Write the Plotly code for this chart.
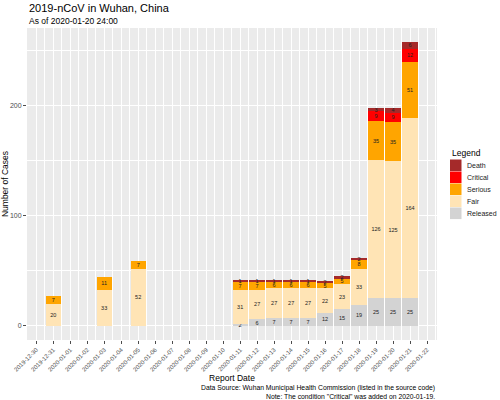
import plotly.graph_objects as go

# report dates that have data
dates = ["2019-12-31", "2020-01-03", "2020-01-05",
         "2020-01-11", "2020-01-12", "2020-01-13", "2020-01-14", "2020-01-15",
         "2020-01-16", "2020-01-17", "2020-01-18", "2020-01-19", "2020-01-20",
         "2020-01-21"]

released = [None, None, None, 2, 6, 7, 7, 7, 12, 15, 19, 25, 25, 25]
fair = [20, 33, 52, 31, 27, 27, 27, 27, 22, 23, 33, 126, 125, 164]
serious = [7, 11, 7, 7, 7, 6, 6, 6, 5, 5, 8, 35, 35, 51]
critical = [None, None, None, None, None, None, None, None, None, None, None, 9, 9, 12]
death = [None, None, None, 1, 1, 1, 1, 1, 2, 2, 2, 3, 4, 6]

tick_dates = ["2019-12-30", "2019-12-31"] + ["2020-01-%02d" % d for d in range(1, 23)]

series = [
    ("Released", released, "#d3d3d3"),
    ("Fair", fair, "#ffe4b5"),
    ("Serious", serious, "#ffa500"),
    ("Critical", critical, "#ff0000"),
    ("Death", death, "#a52a2a"),
]

FONT = "Liberation Sans, Arial, sans-serif"
DAY = 86400000

fig = go.Figure()
for name, vals, col in series:
    fig.add_trace(go.Bar(
        x=dates, y=vals, name=name,
        marker=dict(color=col, line=dict(width=0)),
        width=0.9 * DAY,
        text=[("" if v is None else str(v)) for v in vals],
        textposition="inside",
        insidetextanchor="middle",
        constraintext="none",
        textangle=0,
        textfont=dict(size=5.5, color="#222222", family=FONT),
        hoverinfo="x+y+name",
        showlegend=False,
    ))

fig.update_layout(
    width=500, height=400,
    barmode="stack",
    margin=dict(l=27, r=63, t=28, b=60, autoexpand=False),
    paper_bgcolor="white",
    plot_bgcolor="#ebebeb",
    font=dict(family=FONT, size=8, color="#222222"),
)

fig.add_annotation(
    text="2019-nCoV in Wuhan, China", xref="paper", yref="paper",
    x=0, y=1, xanchor="left", yanchor="bottom", yshift=12,
    showarrow=False, font=dict(size=11, color="black"),
)
fig.add_annotation(
    text="As of 2020-01-20 24:00", xref="paper", yref="paper",
    x=0, y=1, xanchor="left", yanchor="bottom", yshift=0,
    showarrow=False, font=dict(size=8.5, color="black"),
)

# legend drawn by hand, ggplot style (top to bottom: Death ... Released)
fig.add_annotation(
    text="Legend", xref="paper", yref="paper",
    x=(450 - 27) / 410, y=(340 - 152.5) / 312, xanchor="left", yanchor="middle",
    showarrow=False, font=dict(size=8.5, color="black"),
)
for i, (name, vals, col) in enumerate(reversed(series)):
    yc = 165.3 + 12.0 * i
    fig.add_shape(
        type="rect", xref="paper", yref="paper",
        x0=(450 - 27) / 410, x1=(461.5 - 27) / 410,
        y0=(340 - yc + 5.8) / 312, y1=(340 - yc - 5.8) / 312,
        fillcolor=col, line=dict(width=0),
    )
    fig.add_annotation(
        text=name, xref="paper", yref="paper",
        x=(465 - 27) / 410, y=(340 - yc) / 312, xanchor="left", yanchor="middle",
        showarrow=False, font=dict(size=7, color="#222222"),
    )

fig.update_xaxes(
    type="date",
    automargin=False,
    range=["2019-12-29 11:00", "2020-01-22 14:00"],
    tickvals=tick_dates,
    ticktext=tick_dates,
    tickangle=-45,
    tickfont=dict(size=6, color="#4d4d4d"),
    ticks="outside", ticklen=3, tickcolor="#4d4d4d",
    showgrid=True, gridcolor="white", gridwidth=1,
    minor=dict(dtick=DAY / 2, tick0="2019-12-29 12:00", showgrid=True,
               gridcolor="white", gridwidth=0.5),
    zeroline=False,
    title=dict(text="Report Date", font=dict(size=8.5, color="black"), standoff=3),
)

fig.update_yaxes(
    automargin=False,
    range=[-12.9, 270.9],
    tickvals=[0, 100, 200],
    tickfont=dict(size=7, color="#4d4d4d"),
    ticks="outside", ticklen=3, tickcolor="#4d4d4d",
    showgrid=True, gridcolor="white", gridwidth=1,
    minor=dict(tickvals=[50, 150, 250], showgrid=True, gridcolor="white", gridwidth=0.5),
    zeroline=False,
    title=dict(text="Number of Cases", font=dict(size=8.5, color="black"), standoff=0),
)

fig.add_annotation(
    text="Data Source: Wuhan Municipal Health Commission (listed in the source code)<br>"
         "Note: The condition \"Critical\" was added on 2020-01-19.",
    xref="paper", yref="paper", x=1, y=-0.166,
    xanchor="right", yanchor="middle", align="right",
    showarrow=False, font=dict(size=6.8, color="black"),
)

# the page body has a default margin; drop it so the figure sits at the corner
fig.write_html("out.html", config={"displayModeBar": False},
               post_script="document.body.style.margin='0';")
